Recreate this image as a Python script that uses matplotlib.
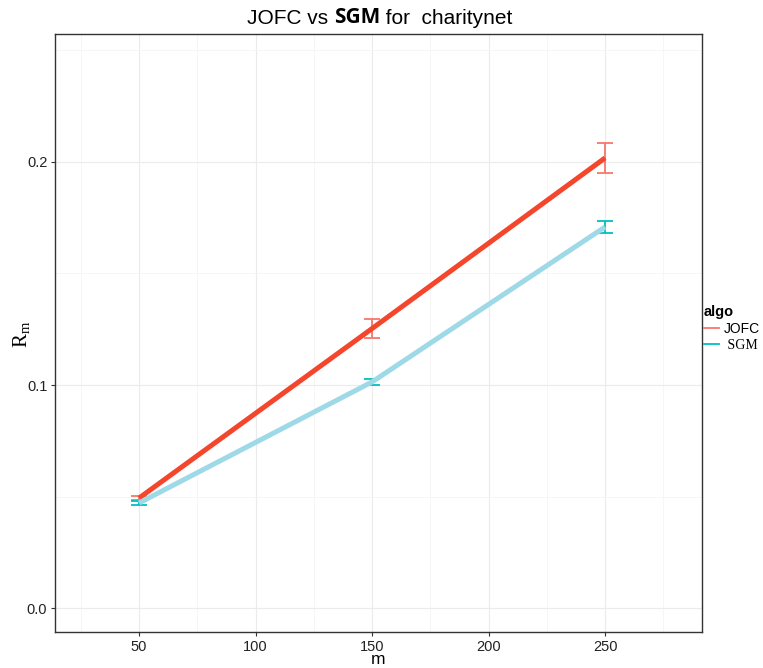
import matplotlib
matplotlib.use('Agg')
import matplotlib.pyplot as plt
from matplotlib.lines import Line2D
from matplotlib.ticker import FixedLocator

# values
m_values = [50, 150, 250]
jofc_mean = [0.0494, 0.1253, 0.2017]
jofc_err = [0.0011, 0.0043, 0.0069]
sgm_mean = [0.0472, 0.1014, 0.1708]
sgm_err = [0.0008, 0.0013, 0.0025]

x_ticks = [50, 100, 150, 200, 250]
y_ticks = [0.0, 0.1, 0.2]
y_tick_labels = ['0.0', '0.1', '0.2']

SANS = 'Liberation Sans'
SERIF = 'Liberation Serif'
JOFC_ERR_COLOR = '#F8766D'
SGM_ERR_COLOR = '#00BFC4'
JOFC_LINE_COLOR = '#F4462C'
SGM_LINE_COLOR = '#9ED9E8'

plt.rcParams['font.family'] = SANS
plt.rcParams['mathtext.fontset'] = 'custom'
plt.rcParams['mathtext.rm'] = SERIF
plt.rcParams['mathtext.it'] = SERIF

fig = plt.figure(figsize=(7.63, 6.68), dpi=100)
ax = fig.add_axes([55 / 763, 36 / 668, 647 / 763, 598 / 668])

ax.set_xlim(13.9, 291.6)
ax.set_ylim(-0.0106, 0.2572)

# grid like theme_bw
ax.xaxis.set_major_locator(FixedLocator(x_ticks))
ax.yaxis.set_major_locator(FixedLocator(y_ticks))
ax.xaxis.set_minor_locator(FixedLocator([25, 75, 125, 175, 225, 275]))
ax.yaxis.set_minor_locator(FixedLocator([0.05, 0.15, 0.25]))
ax.grid(which='major', color='#EBEBEB', linewidth=0.8)
ax.grid(which='minor', color='#F5F5F5', linewidth=0.6)
ax.set_axisbelow(True)

ax.errorbar(m_values, jofc_mean, yerr=jofc_err, fmt='none', ecolor=JOFC_ERR_COLOR,
            elinewidth=1.3, capsize=5.8, capthick=1.3, zorder=2)
ax.errorbar(m_values, sgm_mean, yerr=sgm_err, fmt='none', ecolor=SGM_ERR_COLOR,
            elinewidth=1.3, capsize=5.8, capthick=1.3, zorder=2)
ax.plot(m_values, jofc_mean, color=JOFC_LINE_COLOR, linewidth=3.6,
        solid_capstyle='butt', zorder=3)
ax.plot(m_values, sgm_mean, color=SGM_LINE_COLOR, linewidth=3.6,
        solid_capstyle='butt', zorder=3)

ax.set_yticklabels(y_tick_labels)
ax.tick_params(which='major', length=3, width=0.8, color='#333333',
               labelsize=10.5, labelcolor='#222222', pad=2.5)
ax.tick_params(which='minor', length=0)
for side in ['left', 'right', 'top', 'bottom']:
    ax.spines[side].set_color('#333333')
    ax.spines[side].set_linewidth(1.0)

# axis titles placed on the figure so they stay inside the canvas
fig.text(378 / 763, 1 - 660 / 668, 'm', fontsize=12.5, ha='center', va='center')
fig.text(21 / 763, 1 - 334 / 668, r'$\mathrm{R}_{\mathrm{m}}$', fontsize=15,
         rotation=90, ha='center', va='center')

# title with bold SGM in a different face
t1 = fig.text(247 / 763, 1 - 24 / 668, 'JOFC vs ', fontsize=15, family=SANS,
              ha='left', va='baseline')
t2 = ax.annotate('SGM', xycoords=t1, xy=(1, 0), va='bottom', ha='left',
                 fontsize=15, family='Open Sans', fontweight='bold')
ax.annotate(' for  charitynet', xycoords=t2, xy=(1, 0), va='bottom', ha='left',
            fontsize=15, family=SANS)

handles = [Line2D([], [], color=JOFC_ERR_COLOR, linewidth=1.3),
           Line2D([], [], color=SGM_ERR_COLOR, linewidth=1.3)]
leg = fig.legend(handles, ['JOFC', 'SGM'], title='algo', loc='upper left',
                 bbox_to_anchor=(704 / 763, 1 - 305 / 668), frameon=False,
                 fontsize=10, handlelength=1.1, handletextpad=0.35,
                 labelspacing=0.2, borderaxespad=0, borderpad=0)
leg.get_title().set_fontweight('bold')
leg.get_title().set_fontsize(10.5)
leg.get_title().set_family(SANS)
leg._legend_box.align = 'left'
leg.get_texts()[0].set_family(SANS)
leg.get_texts()[1].set_family(SERIF)
leg.get_texts()[1].set_text(' SGM')

fig.savefig('out.png', dpi=100)
